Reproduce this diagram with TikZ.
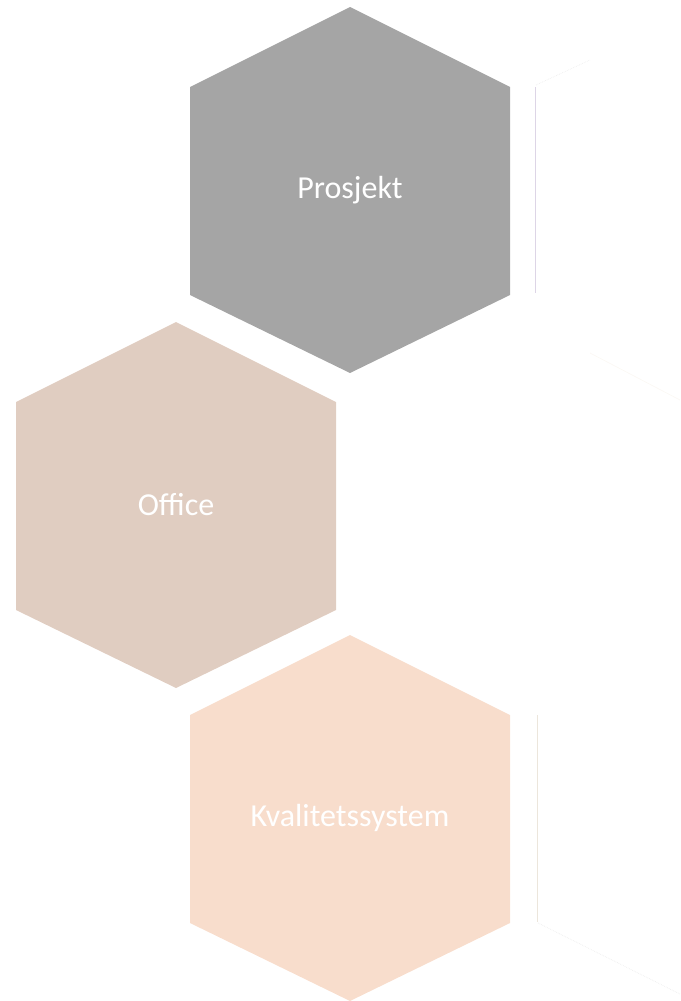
\documentclass[tikz,border=0pt]{standalone}
\usepackage{fontspec}
\setmainfont{Carlito}
\definecolor{hexgray}{HTML}{A5A5A5}
\definecolor{hextaupe}{HTML}{E0CDC1}
\definecolor{hexpeach}{HTML}{F8DDCC}
\definecolor{faintlav}{HTML}{DDD5E6}
\definecolor{faintbeige}{HTML}{ECE6DC}
\definecolor{faintgray}{HTML}{EEEEEE}
\definecolor{faintwhite}{HTML}{FBF8F4}
\begin{document}
\begin{tikzpicture}[x=1pt,y=-1pt,
  hexlabel/.style={text=white,font=\fontsize{32}{38}\selectfont,inner sep=0pt},
  ghostedge/.style={line width=0.7pt},
  hexshape/.pic={\fill[#1] (0,-183) -- (160,-103) -- (160,105) -- (0,183) -- (-160,105) -- (-160,-103) -- cycle;}]
\useasboundingbox (0,0) rectangle (680,1001);
% faint ghost hexagon edges on the right
\draw[ghostedge,faintlav] (535,87) -- (535,293);
\draw[ghostedge,faintgray,densely dotted] (536,85) -- (590,60);
\draw[ghostedge,faintwhite] (590,353) -- (680,400);
\draw[ghostedge,faintbeige] (537,715) -- (537,922);
\draw[ghostedge,faintgray,densely dotted] (538,923) -- (680,994);
% coloured hexagons
\pic at (350,190) {hexshape=hexgray};
\pic at (176,505) {hexshape=hextaupe};
\pic at (350,818) {hexshape=hexpeach};
\node[hexlabel] (prosjekt) at (350,190) {Prosjekt};
\node[hexlabel] (office) at (176,505) {Office};
\node[hexlabel] (kvalitet) at (350,818) {Kvalitetssystem};
\end{tikzpicture}
\end{document}
